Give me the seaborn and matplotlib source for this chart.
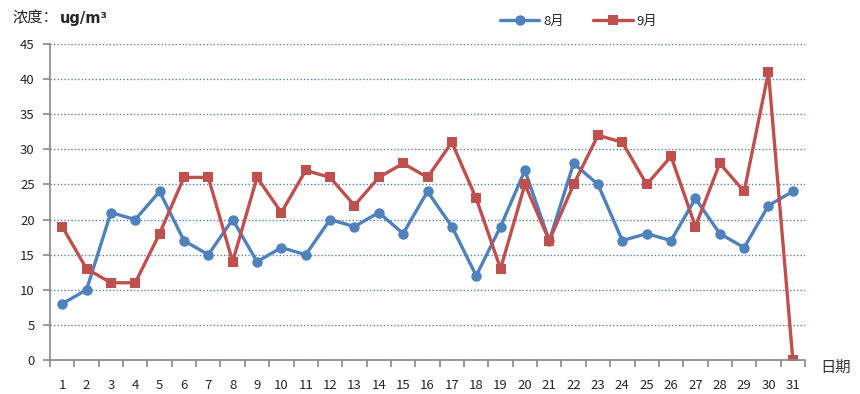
import matplotlib
matplotlib.use("Agg")
import matplotlib.pyplot as plt
import seaborn as sns
import pandas as pd
import numpy as np

# --- data ---
days = list(range(1, 32))
aug = [8, 10, 21, 20, 24, 17, 15, 20, 14, 16, 15, 20, 19, 21, 18, 24,
       19, 12, 19, 27, 17, 28, 25, 17, 18, 17, 23, 18, 16, 22, 24]
sep = [19, 13, 11, 11, 18, 26, 26, 14, 26, 21, 27, 26, 22, 26, 28, 26,
       31, 23, 13, 25, 17, 25, 32, 31, 25, 29, 19, 28, 24, 41, 0]
series_names = ["8月", "9月"]
y_ticks = list(range(0, 50, 5))

df = pd.DataFrame({
    "day": days * 2,
    "value": aug + sep,
    "month": [series_names[0]] * len(days) + [series_names[1]] * len(days),
})

sns.set_style("white")
plt.rcParams["font.family"] = ["Noto Sans CJK SC", "DejaVu Sans"]

fig = plt.figure(figsize=(8.6, 3.94), dpi=100)
ax = fig.add_axes([50 / 860, 34 / 394, 755 / 860, 316 / 394])

palette = {"8月": "#4F81BD", "9月": "#C0504D"}
sns.lineplot(data=df, x="day", y="value", hue="month", style="month",
             markers={"8月": "o", "9月": "s"}, dashes=False,
             palette=palette, linewidth=2.4, markersize=7.5,
             markeredgewidth=0, ax=ax)

# --- axes ---
ax.set_xlim(0.5, 31.5)
ax.set_ylim(0, 45)
ax.set_yticks(y_ticks)
ax.set_xticks(days)
ax.set_xticks(np.arange(0.5, 32, 1), minor=True)
ax.tick_params(axis="x", which="major", length=0, pad=14, labelsize=9.5,
               bottom=True)
ax.tick_params(axis="x", which="minor", length=5, width=1.2, color="#888888",
               direction="out", bottom=True)
ax.tick_params(axis="y", which="major", length=5, width=1.2, color="#888888",
               direction="out", labelsize=9.5, pad=6, left=True)
ax.set_xlabel("")
ax.set_ylabel("")

for s in ["top", "right"]:
    ax.spines[s].set_visible(False)
for s in ["left", "bottom"]:
    ax.spines[s].set_color("#888888")
    ax.spines[s].set_linewidth(1.2)

ax.yaxis.grid(True, linestyle=(0, (1, 1.5)), color="#4F81BD", linewidth=1)
ax.set_axisbelow(True)

# --- text ---
fig.text(12 / 860, 1 - 18 / 394, "浓度：", fontsize=11, va="center", ha="left")
fig.text(60 / 860, 1 - 18 / 394, "ug/m³", fontsize=10.5, va="center", ha="left",
         family=["DejaVu Sans"], fontweight="semibold")
fig.text(820 / 860, 1 - 367 / 394, "日期", fontsize=11, va="center", ha="left",
         color="#333333")

ax.legend(loc="upper center", bbox_to_anchor=(0.70, 1.13), ncol=2, frameon=False,
          fontsize=9.5, columnspacing=2.2, handlelength=3, handletextpad=0.3,
          title=None)

plt.savefig("out.png", dpi=100)
